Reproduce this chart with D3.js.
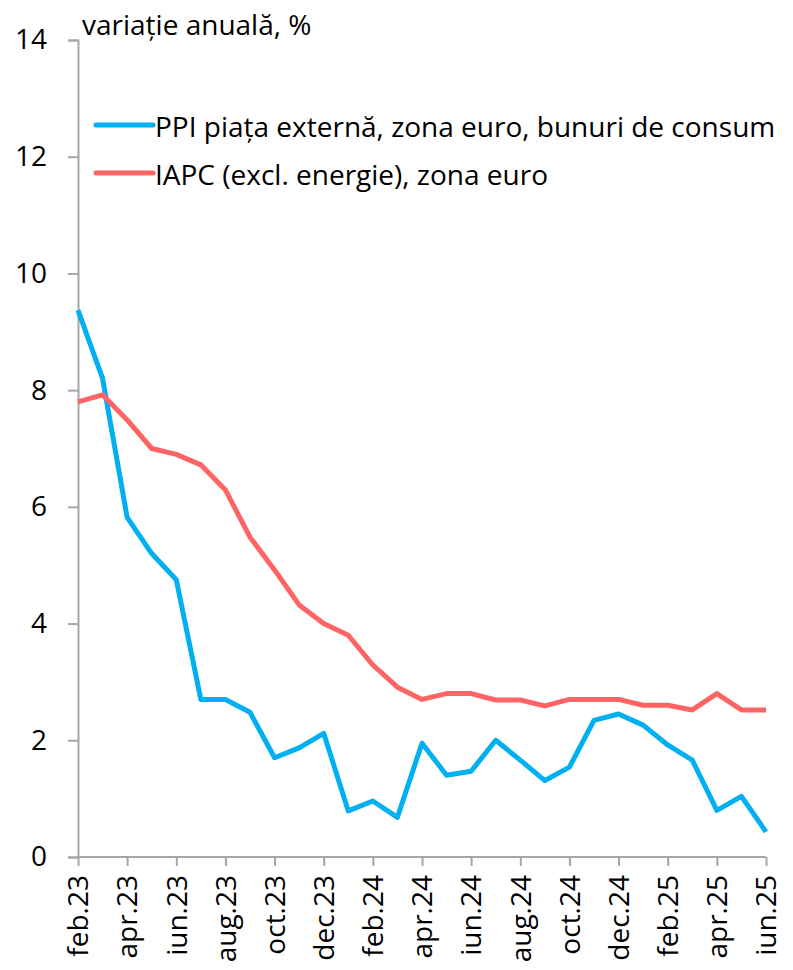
<!DOCTYPE html>
<html>
<head>
<meta charset="utf-8">
<style>
  body { margin: 0; background: #fff; }
  svg text { font-family: "Open Sans", "Liberation Sans", sans-serif; fill: #000; }
  .axis path, .axis line { stroke: #a6a6a6; stroke-width: 2; }
</style>
</head>
<body>
<svg id="chart"></svg>
<script src="https://cdn.jsdelivr.net/npm/d3@7"></script>
<script>
// months feb.23 .. jun.25
var months = ['feb.23','mar.23','apr.23','mai.23','iun.23','iul.23','aug.23','sep.23','oct.23','nov.23','dec.23',
              'ian.24','feb.24','mar.24','apr.24','mai.24','iun.24','iul.24','aug.24','sep.24','oct.24','nov.24','dec.24',
              'ian.25','feb.25','mar.25','apr.25','mai.25','iun.25'];

var ppiValues = [9.37, 8.2, 5.82, 5.2, 4.75, 2.7, 2.7, 2.48, 1.7, 1.87, 2.12,
                 0.79, 0.96, 0.68, 1.95, 1.4, 1.47, 2.0, 1.66, 1.31, 1.54, 2.34, 2.45,
                 2.26, 1.92, 1.66, 0.8, 1.04, 0.43];

var iapcValues = [7.8, 7.92, 7.49, 7.0, 6.9, 6.72, 6.29, 5.48, 4.92, 4.32, 4.0,
                  3.8, 3.29, 2.91, 2.7, 2.8, 2.8, 2.69, 2.69, 2.59, 2.7, 2.7, 2.7,
                  2.6, 2.6, 2.52, 2.8, 2.52, 2.52];

var seriesNames = ['PPI piața externă, zona euro, bunuri de consum', 'IAPC (excl. energie), zona euro'];
var seriesColors = ['#00b0f0', '#ff6464'];
var yTicks = [0, 2, 4, 6, 8, 10, 12, 14];
var xLabels = months.filter(function (d, i) { return i % 2 === 0; });

var width = 793, height = 970;
var margin = { left: 78, right: 27, top: 40, bottom: 113 };
var fontSize = 28;

var svg = d3.select('#chart').attr('width', width).attr('height', height);

var x = d3.scalePoint().domain(months).range([margin.left, width - margin.right]);
var y = d3.scaleLinear().domain([0, 14]).range([height - margin.bottom, margin.top]);

// y axis
var yAxis = svg.append('g')
    .attr('class', 'axis')
    .attr('transform', 'translate(' + margin.left + ',0)')
    .call(d3.axisLeft(y).tickValues(yTicks).tickSize(10).tickPadding(21).tickFormat(d3.format('d')));
yAxis.selectAll('text').attr('font-size', fontSize).style('font-family', '"Open Sans", sans-serif');

// x axis
var xAxis = svg.append('g')
    .attr('class', 'axis')
    .attr('transform', 'translate(0,' + y(0) + ')')
    .call(d3.axisBottom(x).tickValues(xLabels).tickSize(9).tickSizeOuter(0));
xAxis.select('.domain').attr('d', 'M' + x.range()[0] + ',0H' + x.range()[1]);
xAxis.selectAll('text')
    .attr('font-size', fontSize)
    .style('font-family', '"Open Sans", sans-serif')
    .attr('text-anchor', 'end')
    .attr('dy', '0.35em')
    .attr('x', -18)
    .attr('y', 0)
    .attr('transform', 'rotate(-90)');

// lines
var line = d3.line()
    .x(function (d, i) { return x(months[i]); })
    .y(function (d) { return y(d); });

[ppiValues, iapcValues].forEach(function (vals, k) {
    svg.append('path')
        .datum(vals)
        .attr('fill', 'none')
        .attr('stroke', seriesColors[k])
        .attr('stroke-width', 5)
        .attr('stroke-linejoin', 'round')
        .attr('d', line);
});

// unit label
svg.append('text')
    .attr('x', 82)
    .attr('y', 35)
    .attr('font-size', fontSize)
    .text('variație anuală, %');

// legend
var legend = svg.append('g').selectAll('g')
    .data(seriesNames)
    .join('g')
    .attr('transform', function (d, i) { return 'translate(96,' + (125 + i * 48) + ')'; });
legend.append('line')
    .attr('x1', 0).attr('x2', 57)
    .attr('stroke', function (d, i) { return seriesColors[i]; })
    .attr('stroke-width', 5)
    .attr('stroke-linecap', 'round');
legend.append('text')
    .attr('x', 59)
    .attr('y', 12)
    .attr('font-size', fontSize)
    .text(function (d) { return d; });
</script>
</body>
</html>
